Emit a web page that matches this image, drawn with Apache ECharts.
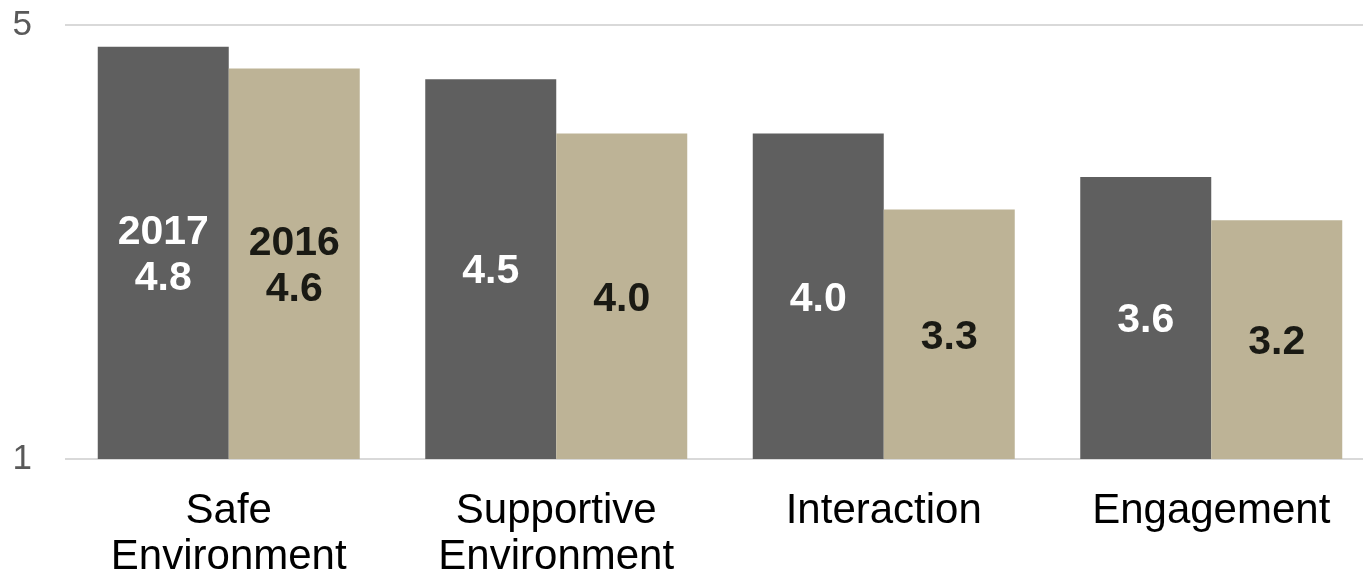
<!DOCTYPE html>
<html>
<head>
<meta charset="utf-8">
<script src="https://cdn.jsdelivr.net/npm/echarts@6/dist/echarts.min.js"></script>
<style>
  html, body { margin: 0; padding: 0; background: #fff; overflow: hidden; }
  #chart { width: 1363px; height: 575px; }
</style>
</head>
<body>
<div id="chart"></div>
<script>
  var categories = ['Safe\nEnvironment', 'Supportive\nEnvironment', 'Interaction', 'Engagement'];
  var values2017 = [4.8, 4.5, 4.0, 3.6];
  var values2016 = [4.6, 4.0, 3.3, 3.2];

  var chart = echarts.init(document.getElementById('chart'));

  // first category shows the year above the value
  function labelText(params) {
    var v = params.value.toFixed(1);
    return params.dataIndex === 0 ? params.seriesName + '\n' + v : v;
  }

  var option = {
    animation: false,
    grid: {
      left: 65, top: 25, width: 1310, height: 434,
      containLabel: false,
      outerBoundsMode: 'none'
    },
    xAxis: {
      type: 'category',
      data: categories,
      axisLine: { show: false },
      axisTick: { show: false },
      axisLabel: {
        color: '#000',
        fontFamily: 'Liberation Sans, Arial, sans-serif',
        fontSize: 42,
        lineHeight: 46,
        margin: 29
      }
    },
    yAxis: {
      type: 'value',
      min: 1,
      max: 5,
      interval: 4,
      axisLine: { show: false },
      axisTick: { show: false },
      axisLabel: {
        color: '#595959',
        fontFamily: 'Liberation Sans, Arial, sans-serif',
        fontSize: 35,
        margin: 33
      },
      splitLine: { lineStyle: { color: '#d9d9d9', width: 2 } }
    },
    series: [
      {
        name: '2017',
        type: 'bar',
        data: values2017,
        barWidth: 131,
        barGap: '0%',
        itemStyle: { color: '#5f5f5f' },
        label: {
          show: true, position: 'inside', offset: [0, 3], formatter: labelText, color: '#fff',
          fontFamily: 'Liberation Sans, Arial, sans-serif', fontWeight: 'bold', fontSize: 41, lineHeight: 46
        }
      },
      {
        name: '2016',
        type: 'bar',
        data: values2016,
        barWidth: 131,
        barGap: '0%',
        itemStyle: { color: '#bdb396' },
        label: {
          show: true, position: 'inside', offset: [0, 3], formatter: labelText, color: '#1a1a14',
          fontFamily: 'Liberation Sans, Arial, sans-serif', fontWeight: 'bold', fontSize: 41, lineHeight: 46
        }
      }
    ]
  };

  chart.setOption(option);
</script>
</body>
</html>
